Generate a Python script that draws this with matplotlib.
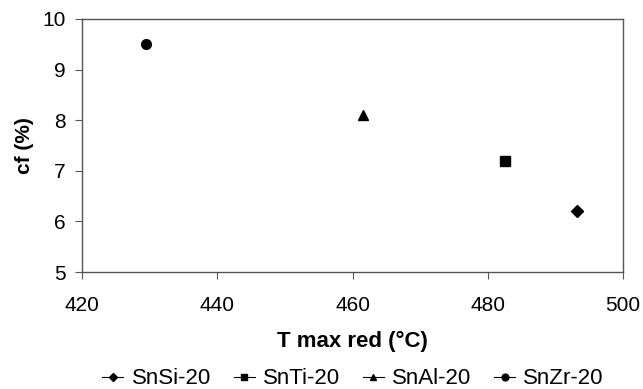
import matplotlib
matplotlib.use('Agg')
import matplotlib.pyplot as plt

# data
names = ['SnSi-20', 'SnTi-20', 'SnAl-20', 'SnZr-20']
t_max_red = [493.2, 482.5, 461.5, 429.5]
cf = [6.2, 7.2, 8.1, 9.5]
markers = ['D', 's', '^', 'o']
sizes = [6.5, 6.5, 7, 7]

plt.rcParams['font.family'] = ['Liberation Sans', 'DejaVu Sans']

fig = plt.figure(figsize=(6.43, 3.89), dpi=100)
ax = fig.add_axes([82 / 643, 1 - 272 / 389, (623 - 82) / 643, (272 - 19) / 389])

for name, x, y, m, s in zip(names, t_max_red, cf, markers, sizes):
    ax.plot([x], [y], marker=m, color='black', markersize=s, linestyle='-',
            linewidth=0.8, label=name)

ax.set_xlim(420, 500)
ax.set_ylim(5, 10)
ax.set_xticks([420, 440, 460, 480, 500])
ax.set_yticks([5, 6, 7, 8, 9, 10])
ax.tick_params(labelsize=15, length=5, width=0.8, color='#555555')
ax.tick_params(axis='x', pad=12)
ax.tick_params(axis='y', pad=7)
for sp in ax.spines.values():
    sp.set_color('#555555')
    sp.set_linewidth(1.0)

ax.set_xlabel('T max red (°C)', fontsize=16, fontweight='bold', labelpad=12)
ax.set_ylabel('cf (%)', fontsize=15, fontweight='bold', labelpad=6)

fig.legend(loc='center', bbox_to_anchor=(353 / 643, 1 - 379 / 389), ncol=4,
           frameon=False, fontsize=16, handlelength=0.95, handletextpad=0.36,
           columnspacing=1.03, markerscale=0.7)

fig.savefig('out.png', dpi=100)
